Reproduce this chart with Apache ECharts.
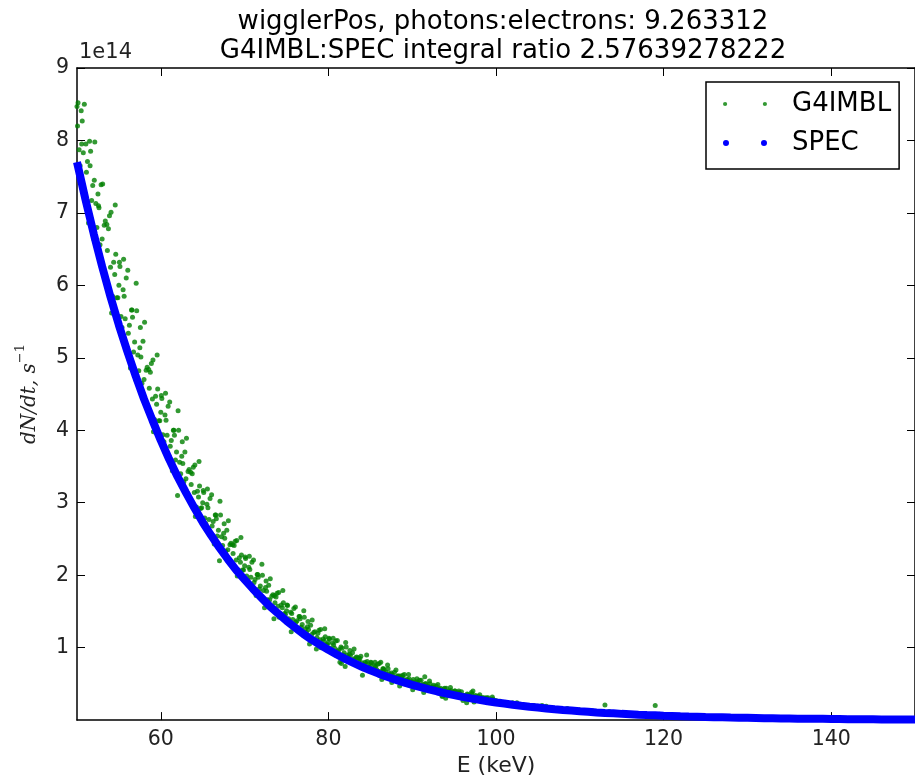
<!DOCTYPE html>
<html><head><meta charset="utf-8">
<script src="https://cdn.jsdelivr.net/npm/echarts@6/dist/echarts.min.js"></script>
<style>html,body{margin:0;padding:0;background:#fff}#c{width:915px;height:782px}</style>
</head><body><div id="c"></div>
<script>
// ---- data (flux in units of 1e14 s^-1) ----
const titleLines = ['wigglerPos, photons:electrons: 9.263312', 'G4IMBL:SPEC integral ratio 2.57639278222'];
const xTicks = [60, 80, 100, 120, 140];
const yTicks = [1, 2, 3, 4, 5, 6, 7, 8, 9];
const yExponent = '1e14';

// SPEC: smooth spectrum, one value per keV from 50 to 150
const specStartE = 50, specStepE = 1;
const specFlux = [
 7.70,7.19,6.71,6.26,5.84,5.45,5.09,4.75,4.43,4.14,
 3.86,3.60,3.36,3.14,2.93,2.73,2.55,2.38,2.22,2.07,
 1.94,1.81,1.69,1.57,1.47,1.37,1.28,1.19,1.11,1.04,
 0.970,0.905,0.845,0.789,0.736,0.687,0.641,0.598,0.558,0.521,
 0.486,0.454,0.424,0.395,0.369,0.344,0.321,0.300,0.280,0.261,
 0.244,0.228,0.212,0.198,0.185,0.173,0.161,0.150,0.140,0.131,
 0.122,0.114,0.106,0.099,0.093,0.086,0.081,0.075,0.070,0.066,
 0.061,0.057,0.053,0.050,0.047,0.043,0.041,0.038,0.035,0.033,
 0.031,0.029,0.027,0.025,0.023,0.022,0.020,0.019,0.018,0.017,
 0.015,0.014,0.013,0.012,0.012,0.011,0.010,0.009,0.009,0.008,
 0.008
];

// G4IMBL: noisy simulated points
// set A: 50.000, 50.250, 50.500 ... 99.750 keV
const g4AStartE = 50, g4AStepE = 0.25;
const g4AFlux = [
 8.47,7.87,8.41,7.83, 7.26,7.71,7.99,7.17, 6.64,7.13,7.26,6.56, 6.64,6.83,6.05,6.78, 6.25,5.85,6.15,5.83,
 6.00,5.57,5.94,5.54, 5.14,5.45,5.66,5.08, 4.70,5.04,5.14,4.65, 4.70,4.83,4.28,4.80, 4.43,4.15,4.36,4.13,
 4.25,3.94,4.21,3.93, 3.64,3.86,4.00,3.59, 3.10,3.56,3.64,3.29, 3.33,3.43,3.03,3.40, 3.14,2.94,3.08,2.92,
 3.00,2.79,2.98,2.77, 2.58,2.74,2.83,2.54, 2.20,2.53,2.58,2.33, 2.35,2.42,2.14,2.41, 2.21,2.07,2.18,2.07,
 2.13,1.99,2.11,1.97, 1.83,1.94,2.01,1.81, 1.67,1.79,1.83,1.66, 1.66,1.71,1.40,1.70, 1.57,1.47,1.55,1.47,
 1.51,1.40,1.49,1.39, 1.29,1.37,1.43,1.28, 1.18,1.26,1.29,1.05, 1.18,1.21,1.07,1.20, 1.11,1.04,1.09,1.04,
 1.07,0.99,1.06,0.99, 0.91,0.97,1.01,0.90, 0.74,0.90,0.91,0.83, 0.84,0.86,0.76,0.85, 0.79,0.74,0.78,0.73,
 0.76,0.70,0.75,0.70, 0.65,0.80,0.71,0.64, 0.59,0.64,0.65,0.59, 0.59,0.61,0.47,0.60, 0.56,0.52,0.55,0.52,
 0.53,0.50,0.53,0.49, 0.46,0.49,0.60,0.45, 0.42,0.45,0.46,0.42, 0.42,0.43,0.38,0.43, 0.30,0.37,0.39,0.37,
 0.38,0.35,0.38,0.35, 0.32,0.34,0.24,0.32, 0.30,0.40,0.32,0.29, 0.30,0.31,0.27,0.30, 0.28,0.26,0.27,0.26
];
// set B: 50.125, 50.375, 50.625 ... 99.875 keV
const g4BStartE = 50.125, g4BStepE = 0.25;
const g4BFlux = [
 8.52,7.65,8.27,8.50, 7.56,6.86,7.85,7.38, 7.98,6.80,7.07,7.39, 6.26,6.89,6.48,6.96, 5.62,6.32,6.43,5.83,
 6.26,5.42,5.85,6.10, 5.34,4.86,5.56,5.22, 5.65,4.82,5.01,5.23, 4.43,4.87,4.58,4.92, 3.98,4.47,4.57,4.13,
 4.44,3.84,4.14,4.33, 3.78,3.44,3.93,3.70, 4.00,3.40,3.54,3.70, 3.14,3.46,3.25,3.49, 2.81,3.16,3.23,2.93,
 3.14,2.71,2.93,3.06, 2.68,2.43,2.78,2.62, 2.83,2.41,2.51,2.62, 2.22,2.44,2.30,2.47, 1.99,2.24,2.28,2.07,
 2.23,1.93,2.08,2.18, 1.90,1.72,1.97,1.85, 2.00,1.55,1.78,1.86, 1.58,1.73,1.62,1.75, 1.42,1.59,1.62,1.46,
 1.58,1.36,1.47,1.54, 1.35,1.23,1.40,1.32, 1.42,1.21,1.25,1.31, 1.11,1.22,1.14,1.24, 1.00,1.12,1.15,1.04,
 1.12,0.96,1.04,1.09, 0.95,0.80,0.99,0.93, 1.01,0.86,0.89,0.93, 0.79,0.87,0.82,0.88, 0.71,0.80,0.81,0.73,
 0.79,0.68,0.74,0.77, 0.67,0.56,0.70,0.66, 0.71,0.61,0.63,0.66, 0.56,0.61,0.58,0.62, 0.50,0.56,0.57,0.52,
 0.56,0.48,0.52,0.55, 0.48,0.38,0.50,0.47, 0.50,0.43,0.45,0.47, 0.40,0.44,0.33,0.44, 0.36,0.40,0.41,0.37,
 0.40,0.34,0.37,0.39, 0.34,0.31,0.35,0.33, 0.36,0.25,0.32,0.33, 0.28,0.31,0.29,0.31, 0.25,0.28,0.29,0.26
];
// set E: 50.0625, 50.5625, 51.0625 ... 99.5625 keV (upper part of the scatter band)
const g4EStartE = 50.0625, g4EStepE = 0.5;
const g4EFlux = [
 8.20,7.95, 7.95,7.65, 7.45,7.10, 7.40,6.84, 7.01,7.11, 6.32,6.36, 6.21,5.66, 6.03,5.42, 5.49,4.84, 4.97,5.04,
 4.48,4.51, 4.39,4.00, 4.27,3.84, 3.89,3.42, 3.52,3.57, 3.17,3.19, 3.11,2.83, 3.02,2.71, 2.75,2.42, 2.48,2.52,
 2.25,2.26, 2.21,2.01, 2.15,1.92, 1.95,1.72, 1.76,1.79, 1.59,1.22, 1.56,1.43, 1.51,1.36, 1.38,0.98, 1.25,1.26,
 1.13,1.13, 1.10,0.78, 1.07,0.96, 0.98,0.86, 0.62,0.90, 0.80,0.80, 0.78,0.71, 0.76,0.52, 0.69,0.61, 0.63,0.63,
 0.42,0.57, 0.55,0.50, 0.54,0.48, 0.49,0.33, 0.44,0.45, 0.40,0.40, 0.27,0.36, 0.38,0.34, 0.35,0.31, 0.31,0.32
];
// set C: one per keV from 100 to 150
const g4CStartE = 100, g4CStepE = 1;
const g4CFlux = [
 0.27,0.24,0.24,0.21,0.19,0.19,0.19,0.16,0.14,0.14,
 0.14,0.12,0.11,0.21,0.09,0.10,0.09,0.08,0.08,0.20,
 0.07,0.06,0.06,0.05,0.05,0.05,0.05,0.04,0.035,0.036,
 0.035,0.030,0.030,0.028,0.026,0.025,0.024,0.022,0.020,0.019,
 0.030,0.017,0.016,0.015,0.014,0.013,0.012,0.011,0.011,0.010,
 0.010
];
// set D: one per keV from 100.5 to 129.5
const g4DStartE = 100.5, g4DStepE = 1;
const g4DFlux = [
 0.26,0.23,0.24,0.19,0.20,0.20,0.16,0.16,0.16,0.13,
 0.13,0.13,0.11,0.12,0.10,0.10,0.09,0.08,0.07,0.08,
 0.065,0.06,0.056,0.05,0.05,0.045,0.045,0.04,0.04,0.035
];

// ---- build series pairs ----
function pairs(start, step, vals) { return vals.map((v, i) => [start + i * step, v]); }
const specData = pairs(specStartE, specStepE, specFlux);
const g4Data = pairs(g4AStartE, g4AStepE, g4AFlux)
  .concat(pairs(g4BStartE, g4BStepE, g4BFlux))
  .concat(pairs(g4EStartE, g4EStepE, g4EFlux))
  .concat(pairs(g4CStartE, g4CStepE, g4CFlux))
  .concat(pairs(g4DStartE, g4DStepE, g4DFlux));

const FONT = 'DejaVu Sans';
const chart = echarts.init(document.getElementById('c'), null, {renderer: 'canvas'});
const axisLine = {show: true, onZero: false, lineStyle: {color: '#000', width: 1.5}};
chart.setOption({
  animation: false,
  backgroundColor: '#fff',
  title: {
    text: titleLines.join('\n'),
    left: 498, top: 3, textAlign: 'center',
    textStyle: {fontFamily: FONT, fontSize: 26, fontWeight: 'normal', color: '#000', lineHeight: 29}
  },
  graphic: [{
    type: 'text', left: 79, top: 42,
    style: {text: yExponent, font: '21px "DejaVu Sans"', fill: '#222'}
  }],
  legend: {
    orient: 'vertical', left: 706, top: 82,
    padding: [9, 8, 13, 17], itemGap: 13,
    itemWidth: 44, itemHeight: 8,
    borderColor: '#000', borderWidth: 1.5, backgroundColor: '#fff', borderRadius: 0,
    textStyle: {fontFamily: FONT, fontSize: 26, color: '#000', lineHeight: 26, padding: [0, 0, 0, 20]},
    data: [
      {name: 'G4IMBL', icon: 'path://M0,2a2,2 0 1,0 4,0a2,2 0 1,0 -4,0M38,2a2,2 0 1,0 4,0a2,2 0 1,0 -4,0'},
      {name: 'SPEC', icon: 'path://M0,3a3,3 0 1,0 6,0a3,3 0 1,0 -6,0M38,3a3,3 0 1,0 6,0a3,3 0 1,0 -6,0'}
    ]
  },
  grid: {left: 77, top: 68, width: 843, height: 654, containLabel: false},
  xAxis: [{
    type: 'value', min: 50, max: 150, position: 'bottom',
    name: 'E (keV)', nameLocation: 'middle', nameGap: 34,
    nameTextStyle: {fontFamily: FONT, fontSize: 22, color: '#222'},
    axisLine: axisLine,
    axisTick: {show: true, inside: true, length: 8, customValues: xTicks, lineStyle: {color: '#000', width: 1}},
    axisLabel: {customValues: xTicks, margin: 9, fontFamily: FONT, fontSize: 20.5, color: '#222'},
    splitLine: {show: false}
  }, {
    type: 'value', min: 50, max: 150, position: 'top',
    axisLine: axisLine,
    axisTick: {show: true, inside: true, length: 8, customValues: xTicks, lineStyle: {color: '#000', width: 1}},
    axisLabel: {show: false}, splitLine: {show: false}
  }],
  yAxis: [{
    type: 'value', min: 0, max: 9, interval: 1, position: 'left',
    name: '{it|dN/dt, s}{sup|\u22121}', nameLocation: 'middle', nameGap: 37, nameRotate: 90,
    nameTextStyle: {
      rich: {
        it: {fontFamily: 'DejaVu Serif', fontStyle: 'italic', fontSize: 20, color: '#222', verticalAlign: 'bottom', lineHeight: 26},
        sup: {fontFamily: 'DejaVu Serif', fontSize: 13, color: '#222', verticalAlign: 'top', lineHeight: 26}
      }
    },
    axisLine: axisLine,
    axisTick: {show: true, inside: true, length: 8, customValues: yTicks, lineStyle: {color: '#000', width: 1}},
    axisLabel: {customValues: yTicks, margin: 8, fontFamily: FONT, fontSize: 20.5, color: '#222'},
    splitLine: {show: false}
  }, {
    type: 'value', min: 0, max: 9, interval: 1, position: 'right',
    axisLine: axisLine,
    axisTick: {show: true, inside: true, length: 8, customValues: yTicks, lineStyle: {color: '#000', width: 1}},
    axisLabel: {show: false}, splitLine: {show: false}
  }],
  series: [{
    name: 'G4IMBL', type: 'scatter', xAxisIndex: 0, yAxisIndex: 0,
    data: g4Data, symbol: 'circle', symbolSize: 5,
    itemStyle: {color: '#008000'}, z: 2, clip: true
  }, {
    name: 'SPEC', type: 'line', xAxisIndex: 0, yAxisIndex: 0,
    data: specData, showSymbol: false, symbol: 'circle',
    lineStyle: {color: '#0000ff', width: 8}, itemStyle: {color: '#0000ff'}, z: 3, clip: true
  }]
});
</script></body></html>
